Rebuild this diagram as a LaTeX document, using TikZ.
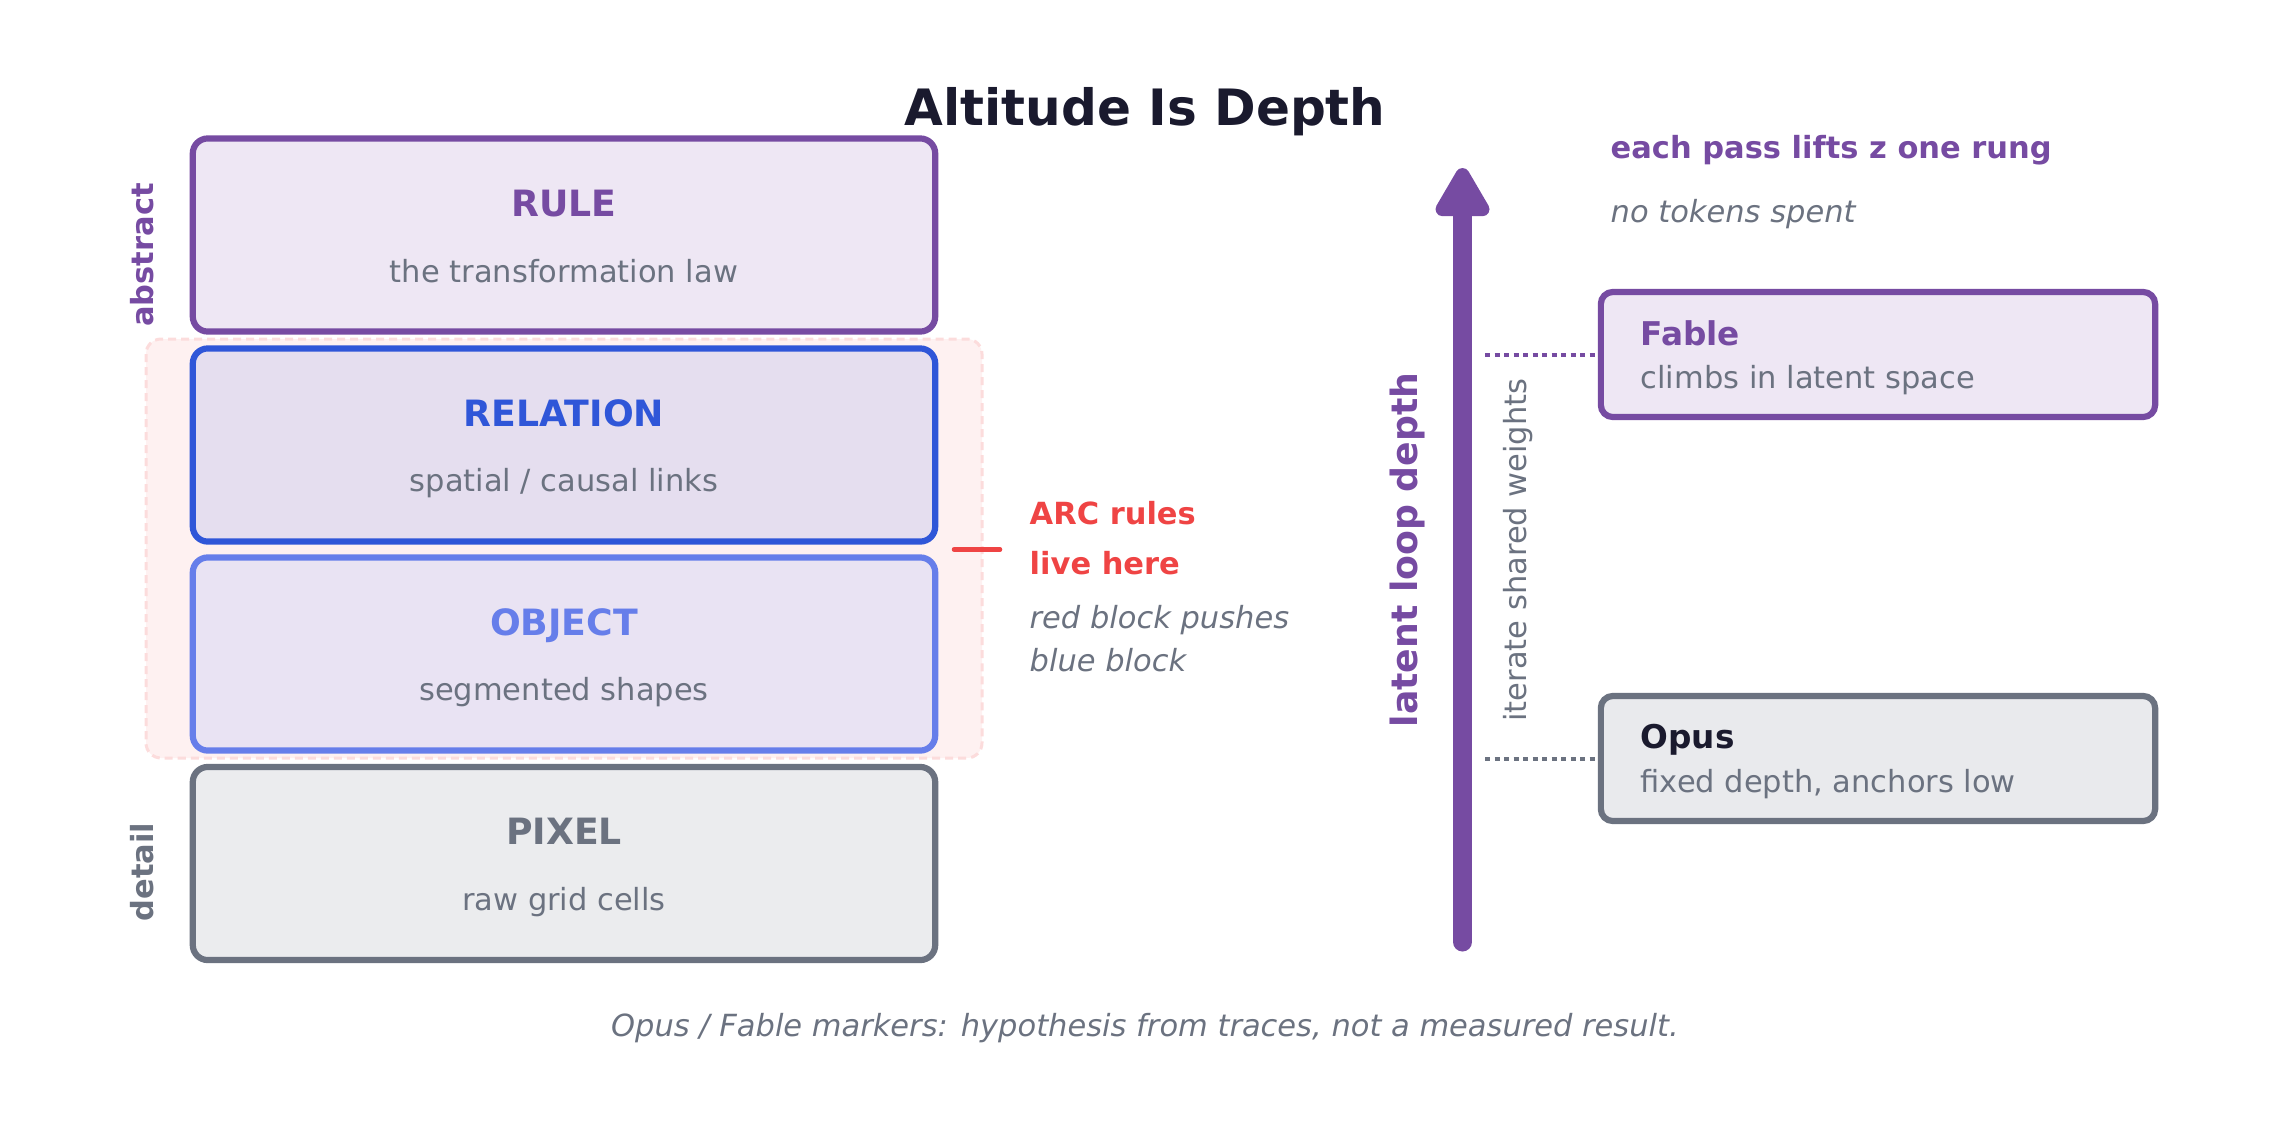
\documentclass[tikz,border=0pt]{standalone}
\usepackage{fontspec}
\setmainfont{DejaVu Sans}
\usepackage{xcolor}
\usetikzlibrary{arrows.meta}
\definecolor{rungpurple}{HTML}{764BA2}
\definecolor{relblue}{HTML}{2F56D8}
\definecolor{objblue}{HTML}{667EEA}
\definecolor{slate}{HTML}{6B7280}
\definecolor{ink}{HTML}{1A1A2E}
\definecolor{arcred}{HTML}{EF4444}
\definecolor{rulefill}{HTML}{EEE7F4}
\definecolor{relfill}{HTML}{E5DEEF}
\definecolor{objfill}{HTML}{E9E3F3}
\definecolor{pixfill}{HTML}{EBECEE}
\definecolor{opusfill}{HTML}{E9EAED}
\definecolor{zonefill}{HTML}{FEF1F1}
\definecolor{zoneline}{HTML}{FCDCDC}

\begin{document}
\begin{tikzpicture}[x=0.01cm, y=-0.01cm,
    layer box/.style={draw, rounded corners=0.15cm, line width=0.062cm,
      minimum width=7.42cm, minimum height=1.93cm, inner sep=0},
    model box/.style={draw, rounded corners=0.12cm, line width=0.062cm,
      minimum width=5.54cm, minimum height=1.25cm, inner sep=0},
    head text/.style={anchor=base, inner sep=0, font=\fontsize{10.3}{12}\selectfont\bfseries},
    sub text/.style={anchor=base, inner sep=0, text=slate, font=\fontsize{8.67}{10}\selectfont},
    note text/.style={anchor=base west, inner sep=0, font=\fontsize{8.67}{10}\selectfont},
    model head/.style={anchor=base west, inner sep=0, font=\fontsize{9.3}{11}\selectfont\bfseries},
    side label/.style={rotate=90, anchor=base, inner sep=0},
    link dots/.style={line width=0.04cm, dash pattern=on 0.05cm off 0.045cm},
    depth arrow/.style={line width=0.19cm, rungpurple, line cap=round,
      -{Triangle[length=0.56cm, width=0.6cm, round]}} ]
  \useasboundingbox (0,0) rectangle (2290,1136);
  \node [anchor=base, inner sep=0, text=ink, font=\fontsize{14.25}{17}\selectfont\bfseries]
    (title) at (1145,125) {Altitude Is Depth};

  \draw [fill=zonefill, draw=zoneline, line width=0.03cm,
    dash pattern=on 0.08cm off 0.05cm, rounded corners=0.15cm] (146,339) rectangle (982,758);

  \node [layer box, draw=rungpurple, fill=rulefill] (rule) at (564,235) {};
  \node [layer box, draw=relblue, fill=relfill] (relation) at (564,445) {};
  \node [layer box, draw=objblue, fill=objfill] (object) at (564,654) {};
  \node [layer box, draw=slate, fill=pixfill] (pixel) at (564,863.5) {};
  \node [head text, text=rungpurple] (rule head) at (564,216) {RULE};
  \node [sub text] (rule sub) at (564,282) {the transformation law};
  \node [head text, text=relblue] (relation head) at (564,426) {RELATION};
  \node [sub text] (relation sub) at (564,491) {spatial / causal links};
  \node [head text, text=objblue] (object head) at (564,635) {OBJECT};
  \node [sub text] (object sub) at (564,700.5) {segmented shapes};
  \node [head text, text=slate] (pixel head) at (564,844.5) {PIXEL};
  \node [sub text] (pixel sub) at (564,910) {raw grid cells};

  \node [side label, text=rungpurple, font=\fontsize{8.67}{10}\selectfont\bfseries]
    (abstract) at (153,255) {abstract};
  \node [side label, text=slate, font=\fontsize{8.67}{10}\selectfont\bfseries]
    (detail) at (153,872) {detail};

  \coordinate (tick a) at (954,549.5);
  \coordinate (tick b) at (1000,549.5);
  \draw [arcred, line width=0.045cm, line cap=round] (tick a) -- (tick b);
  \node [note text, text=arcred, font=\fontsize{8.67}{10}\selectfont\bfseries] (arc1) at (1029,524) {ARC rules};
  \node [note text, text=arcred, font=\fontsize{8.67}{10}\selectfont\bfseries] (arc2) at (1029,574) {live here};
  \node [note text, text=slate, font=\fontsize{8.67}{10}\selectfont\itshape] (push1) at (1029,628) {red block pushes};
  \node [note text, text=slate, font=\fontsize{8.67}{10}\selectfont\itshape] (push2) at (1029,671) {blue block};

  \coordinate (depth foot) at (1462.5,942);
  \coordinate (depth tip) at (1462.5,168);
  \draw [depth arrow] (depth foot) -- (depth tip);
  \node [side label, text=rungpurple, font=\fontsize{10.3}{12}\selectfont\bfseries]
    (depth) at (1417,550) {latent loop depth};
  \node [side label, text=slate, font=\fontsize{8.67}{10}\selectfont]
    (iterate) at (1526,550) {iterate shared weights};

  \node [note text, text=rungpurple, font=\fontsize{8.67}{10}\selectfont\bfseries] (lift) at (1610,158) {each pass lifts z one rung};
  \node [note text, text=slate, font=\fontsize{8.67}{10}\selectfont\itshape] (tokens) at (1610,222) {no tokens spent};

  \node [model box, draw=rungpurple, fill=rulefill] (fable) at (1878,354.5) {};
  \node [model head, text=rungpurple] (fable head) at (1640,345) {Fable};
  \node [note text, text=slate] (fable sub) at (1640,388) {climbs in latent space};
  \node [model box, draw=slate, fill=opusfill] (opus) at (1878,758.5) {};
  \node [model head, text=ink] (opus head) at (1640,748) {Opus};
  \node [note text, text=slate] (opus sub) at (1640,792) {fixed depth, anchors low};
  \coordinate (fable rung) at (1485,354.5);
  \coordinate (opus rung) at (1485,758.5);
  \draw [link dots, rungpurple] (fable rung) -- (fable.west);
  \draw [link dots, slate] (opus rung) -- (opus.west);

  \node [anchor=base, inner sep=0, text=slate, font=\fontsize{8.67}{10}\selectfont\itshape]
    (footer) at (1145,1036) {Opus / Fable markers: hypothesis from traces, not a measured result.};
\end{tikzpicture}
\end{document}
